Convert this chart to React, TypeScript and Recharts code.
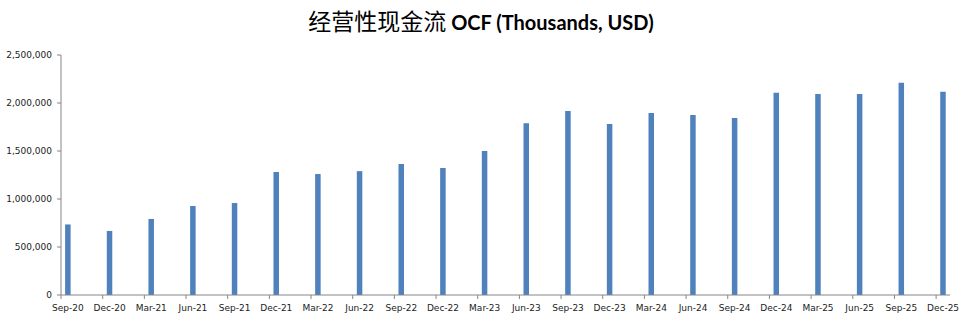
import React from "react";
import { BarChart, Bar, XAxis, YAxis } from "recharts";

const categories = [
  "Sep-20", "Dec-20", "Mar-21", "Jun-21", "Sep-21", "Dec-21", "Mar-22", "Jun-22",
  "Sep-22", "Dec-22", "Mar-23", "Jun-23", "Sep-23", "Dec-23", "Mar-24", "Jun-24",
  "Sep-24", "Dec-24", "Mar-25", "Jun-25", "Sep-25", "Dec-25",
];

const ocf = [
  735000, 667000, 792000, 927000, 958000, 1281000, 1260000, 1290000,
  1365000, 1323000, 1500000, 1790000, 1917000, 1780000, 1896000, 1875000,
  1844000, 2107000, 2094000, 2094000, 2210000, 2118000,
];

const yTicks = [0, 500000, 1000000, 1500000, 2000000, 2500000];

// date axis in months: Sep-20 = month 0 ... Dec-25 = month 63; each bar sits mid-month
const MONTHS = 64;
const data = categories.map((c, i) => ({ cat: c, m: i * 3 + 0.5, v: ocf[i] }));
const xTicks = data.map((d) => d.m);

const W = 969;
const H = 321;
const LEFT = 61;
const RIGHT = 19;
const TOP = 55;
const BOTTOM = 26;
const PLOT_W = W - LEFT - RIGHT;
const AXIS_Y = H - BOTTOM;
const AXIS_COLOR = "#868686";
const FONT = "'DejaVu Sans', Verdana, sans-serif";

const XTick = (props: any) => {
  const { x, index } = props;
  const half = PLOT_W / MONTHS / 2;
  return (
    <g>
      <line x1={x - half} x2={x - half} y1={AXIS_Y} y2={AXIS_Y + 4} stroke={AXIS_COLOR} />
      <text x={x} y={AXIS_Y + 16} textAnchor="middle" fontSize={9} fontFamily={FONT} fill="#222">
        {categories[index]}
      </text>
    </g>
  );
};

export default function App() {
  return (
    <div style={{ position: "absolute", left: 0, top: 0, width: W, height: H, background: "#fff" }}>
      <svg width={W} height={45} style={{ position: "absolute", left: 0, top: 0 }}>
        <text x={481} y={30} textAnchor="middle" fill="#000">
          <tspan fontFamily="'Noto Sans CJK SC', sans-serif" fontSize={23}>经营性现金流</tspan>
          <tspan fontFamily="Lato, 'Noto Sans', sans-serif" fontWeight="bold" fontSize={20}> OCF (Thousands, USD)</tspan>
        </text>
      </svg>
      <div style={{ position: "absolute", left: 0, top: 0 }}>
        <BarChart
          width={W}
          height={H}
          data={data}
          margin={{ top: TOP, right: RIGHT, bottom: 0, left: 0 }}
        >
          <XAxis
            dataKey="m"
            type="number"
            domain={[0, MONTHS]}
            ticks={xTicks}
            interval={0}
            height={BOTTOM}
            stroke={AXIS_COLOR}
            tickLine={false}
            tick={<XTick />}
            allowDecimals
          />
          <YAxis
            type="number"
            domain={[0, 2500000]}
            ticks={yTicks}
            interval={0}
            width={LEFT}
            stroke={AXIS_COLOR}
            tickSize={4}
            tickMargin={5}
            tick={{ fontSize: 9, fontFamily: FONT, fill: "#222" }}
            tickFormatter={(v: number) => v.toLocaleString("en-US")}
          />
          <Bar dataKey="v" fill="#4F81BD" barSize={5.5} isAnimationActive={false} />
        </BarChart>
      </div>
    </div>
  );
}
